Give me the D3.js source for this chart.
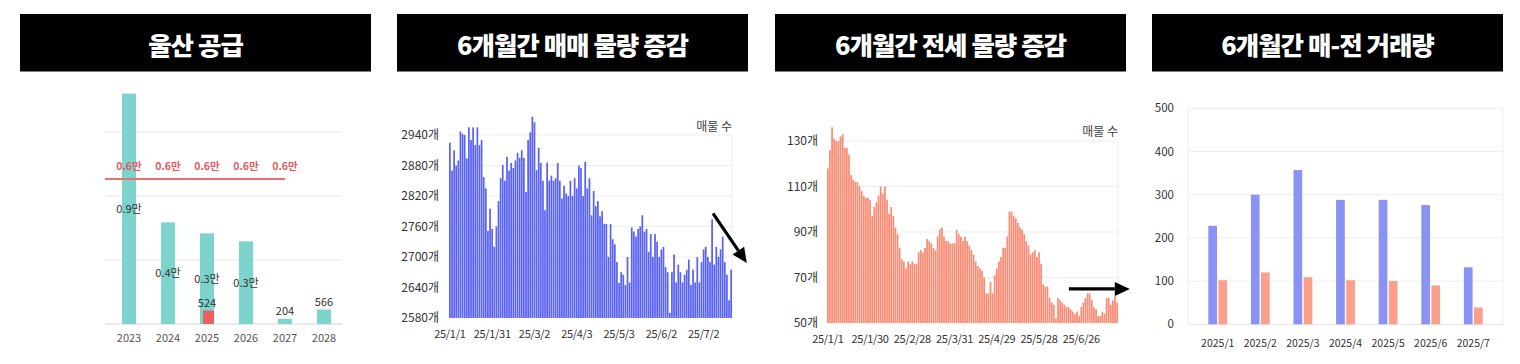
<!DOCTYPE html>
<html><head><meta charset="utf-8">
<script src="https://cdn.jsdelivr.net/npm/d3@7"></script>
<style>
body{margin:0;background:#fff;}
svg{display:block;font-family:"Noto Sans CJK KR","Noto Sans",sans-serif;}
</style>
</head><body>
<svg id="c" width="1520" height="364"></svg>
<script>
// ---------- DATA ----------
const titles = ["울산 공급", "6개월간 매매 물량 증감", "6개월간 전세 물량 증감", "6개월간 매-전 거래량"];

// Panel 1: 울산 공급
const supplyYears = ["2023", "2024", "2025", "2026", "2027", "2028"];
const supplyValues = [9000, 3970, 3540, 3230, 204, 566];
const supplyLabels = ["0.9만", "0.4만", "0.3만", "0.3만", "204", "566"];
const supplyRedYears = ["2025"];
const supplyRedValues = [524];
const supplyRedLabels = ["524"];
const demandYears = ["2023", "2024", "2025", "2026", "2027"];
const demandValues = [5660, 5660, 5660, 5660, 5660];
const demandLabels = ["0.6만", "0.6만", "0.6만", "0.6만", "0.6만"];
const supplyTicks = [2500, 5000, 7500];

// Panel 2: 매매 물량
const saleValues = [
2925,2870,2910,2880,2890,2947,2942,2940,2894,2955,
2930,2955,2920,2955,2920,2930,2857,2835,2751,2795,
2755,2720,2760,2810,2855,2881,2850,2897,2870,2885,
2875,2890,2905,2895,2910,2895,2828,2930,2945,2976,
2965,2871,2915,2885,2850,2792,2886,2850,2860,2850,
2855,2885,2850,2815,2840,2825,2820,2850,2820,2855,
2835,2880,2875,2820,2887,2835,2855,2782,2830,2800,
2810,2780,2790,2765,2765,2700,2765,2735,2725,2690,
2649,2670,2665,2645,2700,2650,2758,2750,2740,2755,
2760,2782,2750,2755,2710,2745,2700,2745,2730,2700,
2715,2720,2680,2670,2590,2670,2705,2650,2685,2670,
2650,2665,2675,2695,2645,2675,2650,2700,2650,2690,
2715,2720,2700,2690,2774,2685,2720,2700,2715,2740,
2690,2665,2615,2675];
const saleDateLabels = ["25/1/1", "25/1/31", "25/3/2", "25/4/3", "25/5/3", "25/6/2", "25/7/2"];
const saleTicks = [2580, 2640, 2700, 2760, 2820, 2880, 2940];

// Panel 3: 전세 물량
const jeonseValues = [
118,126,136,131,130,130,132,133,127,127,
124,115,113,112,112,110,108,106,105,105,
104,97,101,103,106,110,107,110,104,98,
101,97,92,89,83,78,77,74,77,76,
77,76,76,81,82,81,83,87,86,85,
83,82,88,91,92,88,86,86,85,85,
85,91,89,88,86,88,86,84,82,80,
77,75,74,73,70,63,63,68,63,71,
74,77,79,83,83,88,99,99,97,96,
94,92,91,89,86,84,80,81,82,79,
81,76,67,66,66,61,59,58,52,61,
60,59,58,57,57,56,55,54,55,53,
57,59,61,63,63,60,57,56,53,53,
55,54,61,61,58,60,62,59];
const jeonseDateLabels = ["25/1/1", "25/1/30", "25/2/28", "25/3/31", "25/4/29", "25/5/28", "25/6/26"];
const jeonseTicks = [50, 70, 90, 110, 130];
const labelEvery = 20;

// Panel 4: 매-전 거래량
const tradeMonths = ["2025/1", "2025/2", "2025/3", "2025/4", "2025/5", "2025/6", "2025/7"];
const tradeSale = [228, 300, 357, 288, 288, 276, 132];
const tradeJeonse = [102, 120, 109, 102, 100, 90, 39];
const tradeTicks = [0, 100, 200, 300, 400, 500];

// Arrow annotations (index, value) in data space
const saleArrow = [[125, 2786], [141, 2688]];
const jeonseArrow = [[114.7, 65], [143.6, 65]];

// ---------- DRAW ----------
const svg = d3.select("#c");

// Titles
const titleBoxes = [[20, 371], [397, 748], [775, 1126], [1152, 1503]];
titles.forEach((t, i) => {
  const [a, b] = titleBoxes[i];
  svg.append("rect").attr("x", a).attr("y", 14).attr("width", b - a).attr("height", 57.5).attr("fill", "#000");
  svg.append("text").attr("x", (a + b) / 2).attr("y", 43).attr("text-anchor", "middle")
    .attr("dominant-baseline", "central").attr("fill", "#fff")
    .attr("font-size", 25.5).attr("font-weight", 900).attr("letter-spacing", -1).text(t);
});

function styleAxis(g, size, color, ls) {
  g.select(".domain").remove();
  g.selectAll("text").attr("font-size", size).attr("fill", color)
    .attr("letter-spacing", ls || 0)
    .attr("font-family", '"Noto Sans CJK KR","Noto Sans",sans-serif');
}

// ---- Panel 1 ----
{
  const g = svg.append("g");
  const x = d3.scaleBand().domain(supplyYears).range([109.5, 343.5]).paddingInner(0.64).paddingOuter(0.32);
  const y = d3.scaleLinear().domain([0, 10000]).range([324, 68]);
  const L = 105, R = 342;
  g.selectAll(".grid").data(supplyTicks).join("line")
    .attr("x1", L).attr("x2", R).attr("y1", d => y(d)).attr("y2", d => y(d)).attr("stroke", "#e6e6e6");
  g.append("line").attr("x1", L).attr("x2", R).attr("y1", y(0)).attr("y2", y(0)).attr("stroke", "#d4d4dc");
  g.selectAll(".bar").data(supplyValues).join("rect")
    .attr("x", (d, i) => x(supplyYears[i])).attr("y", d => y(d))
    .attr("width", x.bandwidth()).attr("height", d => y(0) - y(d)).attr("fill", "#7dd4cd");
  g.selectAll(".rbar").data(supplyRedValues).join("rect")
    .attr("x", (d, i) => x(supplyRedYears[i]) + 3).attr("y", d => y(d))
    .attr("width", x.bandwidth() - 3).attr("height", d => y(0) - y(d)).attr("fill", "#ec5f5f");
  // value labels
  g.selectAll(".vl").data(supplyValues).join("text")
    .attr("x", (d, i) => x(supplyYears[i]) + x.bandwidth() / 2)
    .attr("y", d => d >= 1000 ? (y(d) + y(0)) / 2 : y(d) - 4)
    .attr("dy", d => d >= 1000 ? "0.35em" : 0)
    .attr("text-anchor", "middle").attr("font-size", 11).attr("fill", "#333")
    .text((d, i) => supplyLabels[i]);
  g.selectAll(".rl").data(supplyRedValues).join("text")
    .attr("x", (d, i) => x(supplyRedYears[i]) + x.bandwidth() / 2)
    .attr("y", d => y(d) - 4).attr("text-anchor", "middle").attr("font-size", 11).attr("fill", "#333")
    .text((d, i) => supplyRedLabels[i]);
  // demand line
  const pts = demandValues.map((v, i) => [x(demandYears[i]) + x.bandwidth() / 2, y(v)]);
  pts.unshift([L, y(demandValues[0])]);
  g.append("path").attr("d", d3.line()(pts)).attr("stroke", "#ec6f6f").attr("stroke-width", 2).attr("fill", "none");
  g.selectAll(".dl").data(demandValues).join("text")
    .attr("x", (d, i) => x(demandYears[i]) + x.bandwidth() / 2).attr("y", d => y(d) - 13)
    .attr("dy", "0.35em").attr("text-anchor", "middle").attr("font-size", 10.5).attr("font-weight", 700)
    .attr("fill", "#e35a60").text((d, i) => demandLabels[i]);
  const ax = g.append("g").attr("transform", `translate(0,${y(0)})`)
    .call(d3.axisBottom(x).tickSize(0).tickPadding(10));
  styleAxis(ax, 11, "#555");
}

// ---- Panels 2 & 3 ----
function dailyPanel(values, dateLabels, ticks, x0, x1, yTop, yBot, color, unitLabelY, padL, arrow) {
  const g = svg.append("g");
  const idx = d3.range(values.length);
  const x = d3.scaleBand().domain(idx).range([x0, x1]).paddingInner(0.18);
  const xl = d3.scaleLinear().domain([0, values.length]).range([x0, x1]);
  const y = d3.scaleLinear().domain([ticks[0], ticks[ticks.length - 1]]).range([yBot, yTop]);
  g.selectAll(".grid").data(ticks.slice(1)).join("line")
    .attr("x1", x0).attr("x2", x1).attr("y1", d => y(d)).attr("y2", d => y(d)).attr("stroke", "#ededed");
  g.append("line").attr("x1", x1).attr("x2", x1).attr("y1", yTop).attr("y2", yBot).attr("stroke", "#ededed");
  g.selectAll(".bar").data(values).join("rect")
    .attr("x", (d, i) => x(i)).attr("y", d => y(d)).attr("width", x.bandwidth())
    .attr("height", d => y(ticks[0]) - y(d)).attr("fill", color);
  const ay = g.append("g").attr("transform", `translate(${x0},0)`)
    .call(d3.axisLeft(y).tickValues(ticks).tickSize(0).tickPadding(padL).tickFormat(d => d + "개"));
  styleAxis(ay, 12, "#333");
  const ax = g.append("g").attr("transform", `translate(0,${yBot})`)
    .call(d3.axisBottom(x).tickValues(idx.filter(i => i % labelEvery === 0 && i / labelEvery < dateLabels.length))
      .tickSize(0).tickPadding(12).tickFormat(i => dateLabels[i / labelEvery]));
  styleAxis(ax, 11, "#333", -0.3);
  g.append("text").attr("x", x1).attr("y", unitLabelY).attr("text-anchor", "end")
    .attr("font-size", 12).attr("fill", "#444").text("매물 수");
  // arrow
  const [[ia, va], [ib, vb]] = arrow;
  const ax1 = xl(ia), ay1 = y(va), ax2 = xl(ib), ay2 = y(vb);
  const ang = Math.atan2(ay2 - ay1, ax2 - ax1);
  const hl = 15, hw = 7;
  const bx = ax2 - hl * Math.cos(ang), by = ay2 - hl * Math.sin(ang);
  g.append("line").attr("x1", ax1).attr("y1", ay1).attr("x2", bx).attr("y2", by)
    .attr("stroke", "#000").attr("stroke-width", 3.2);
  g.append("path").attr("d", d3.line()([
    [ax2, ay2],
    [bx + hw * Math.sin(ang), by - hw * Math.cos(ang)],
    [bx - hw * Math.sin(ang), by + hw * Math.cos(ang)]
  ]) + "Z").attr("fill", "#000");
}
dailyPanel(saleValues, saleDateLabels, saleTicks, 449, 732, 135, 318, "#5a62f2", 131, 10, saleArrow);
dailyPanel(jeonseValues, jeonseDateLabels, jeonseTicks, 827, 1118, 141, 323, "#fa8b74", 136, 9, jeonseArrow);

// ---- Panel 4 ----
{
  const g = svg.append("g");
  const L = 1188, R = 1503;
  const x = d3.scaleBand().domain(tradeMonths).range([1196.4, 1494.6]);
  const xs = d3.scaleBand().domain(["s", "j"]).range([-9.4, 9.4]).paddingInner(0.14);
  const y = d3.scaleLinear().domain([0, 500]).range([324.3, 108.3]);
  g.selectAll(".grid").data(tradeTicks.slice(1)).join("line")
    .attr("x1", L).attr("x2", R).attr("y1", d => y(d)).attr("y2", d => y(d)).attr("stroke", "#eeeeee");
  g.append("line").attr("x1", L).attr("x2", L).attr("y1", y(500)).attr("y2", y(0)).attr("stroke", "#eeeeee");
  g.append("line").attr("x1", R).attr("x2", R).attr("y1", y(500)).attr("y2", y(0)).attr("stroke", "#eeeeee");
  g.append("line").attr("x1", L).attr("x2", R).attr("y1", y(0)).attr("y2", y(0)).attr("stroke", "#e4e4e4");
  const cx = m => x(m) + x.bandwidth() / 2;
  g.selectAll(".bs").data(tradeSale).join("rect")
    .attr("x", (d, i) => cx(tradeMonths[i]) + xs("s")).attr("y", d => y(d))
    .attr("width", xs.bandwidth()).attr("height", d => y(0) - y(d)).attr("fill", "#8a93f4");
  g.selectAll(".bj").data(tradeJeonse).join("rect")
    .attr("x", (d, i) => cx(tradeMonths[i]) + xs("j")).attr("y", d => y(d))
    .attr("width", xs.bandwidth()).attr("height", d => y(0) - y(d)).attr("fill", "#fa9f8a");
  const ay = g.append("g").attr("transform", `translate(${L},0)`)
    .call(d3.axisLeft(y).tickValues(tradeTicks).tickSize(0).tickPadding(14));
  styleAxis(ay, 11.5, "#333");
  const ax = g.append("g").attr("transform", `translate(0,${y(0)})`)
    .call(d3.axisBottom(x).tickSize(0).tickPadding(15));
  styleAxis(ax, 10.5, "#333");
}
</script>
</body></html>
